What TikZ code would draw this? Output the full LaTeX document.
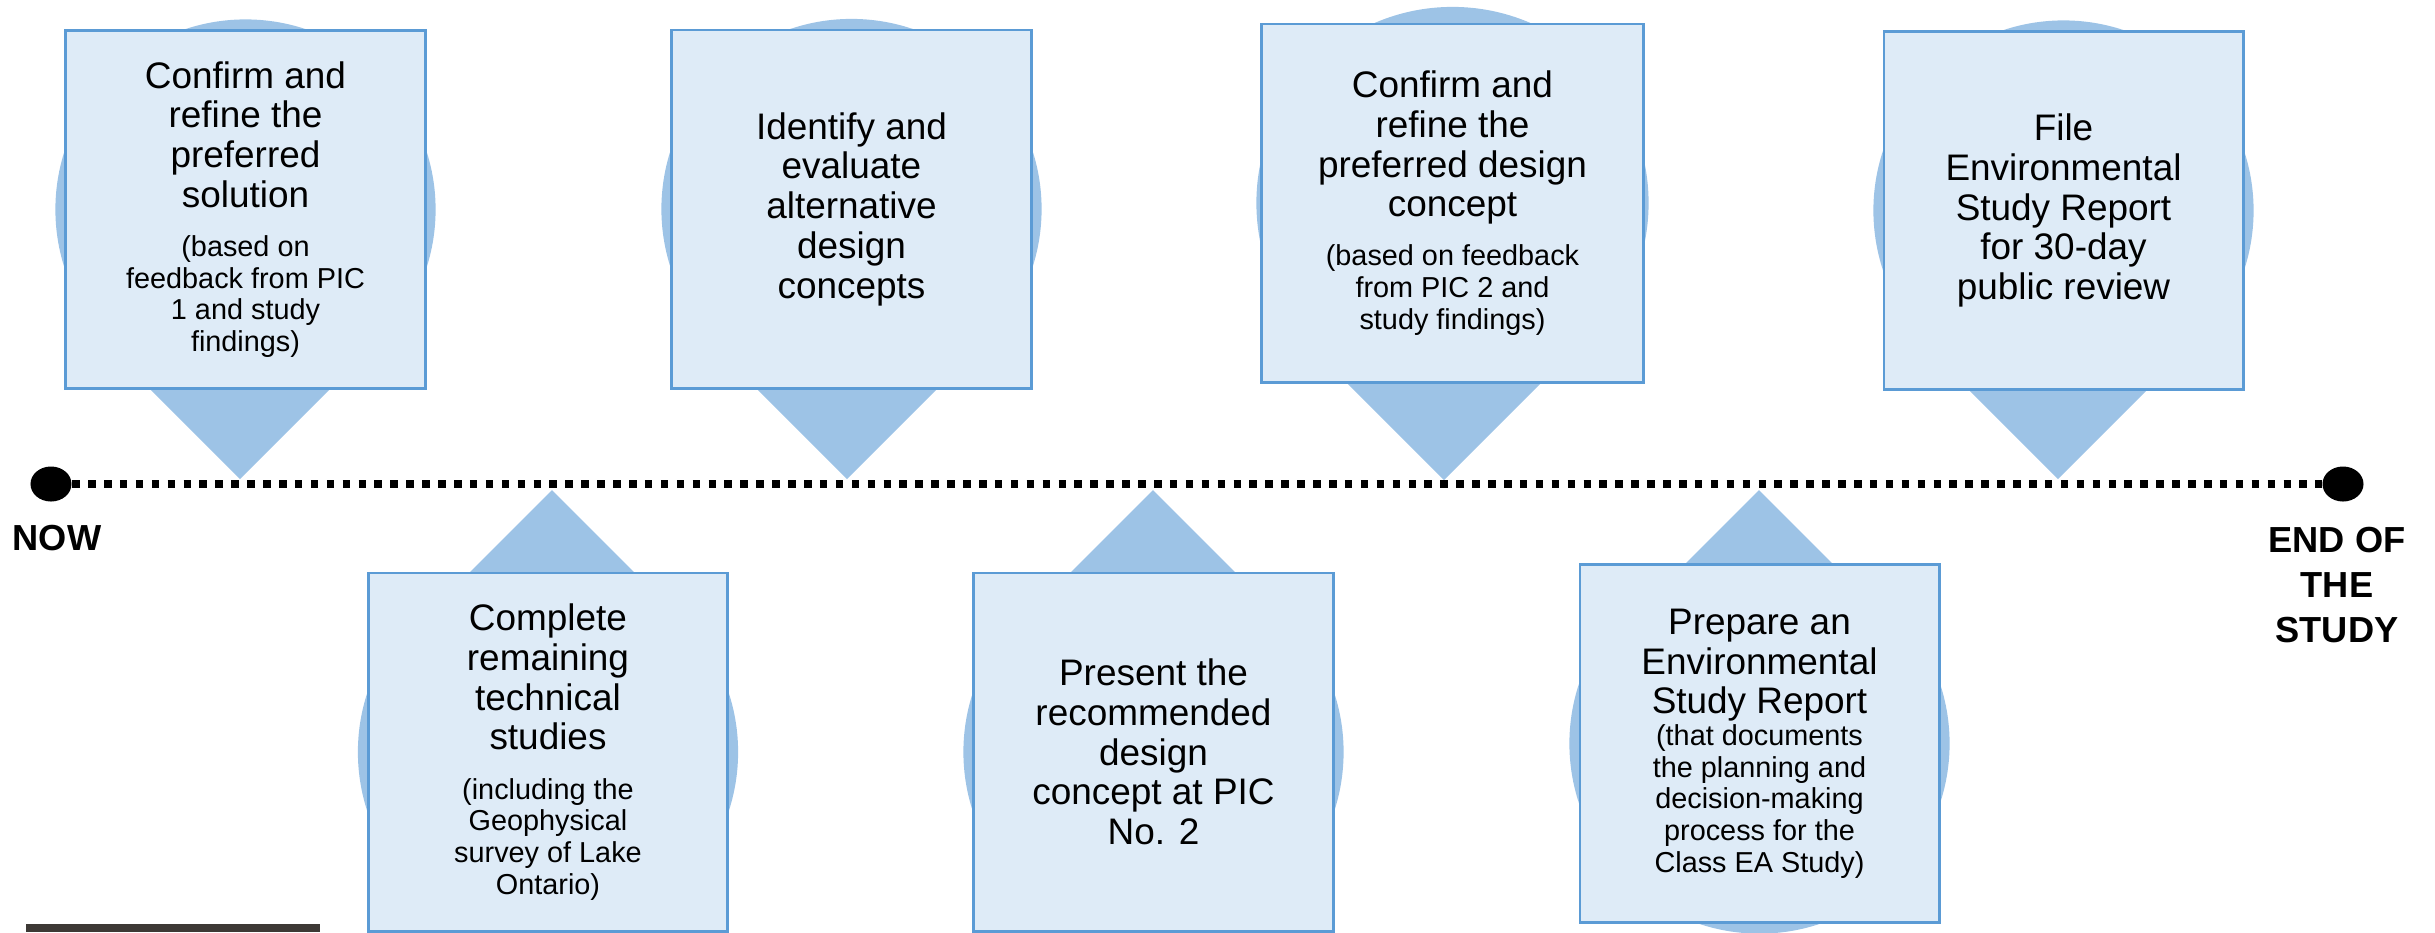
\documentclass[tikz,border=0pt]{standalone}
\usepackage{fontspec}
\setmainfont{Liberation Sans}
\usetikzlibrary{shapes.geometric,backgrounds}
\definecolor{pinblue}{HTML}{9DC3E6}
\definecolor{cardfill}{HTML}{DEEBF7}
\definecolor{cardline}{HTML}{5B9BD5}
\definecolor{barbrown}{HTML}{3D3935}
\newcommand{\maintxt}{\fontsize{10.5pt}{11.3pt}\selectfont}
\newcommand{\subtxt}{\fontsize{8.2pt}{9pt}\selectfont}
\setlength{\parindent}{0pt}

\begin{document}
\begin{tikzpicture}[x=0.01cm, y=-0.01cm,
        card/.style={draw=cardline, fill=cardfill, line width=0.8pt, minimum width=3.59cm,
                     minimum height=3.58cm, text width=3.45cm, align=flush center, inner sep=0pt,
                     font=\maintxt},
        pin/.style={fill=pinblue},
        dotend/.style={ellipse, fill=black, minimum width=0.41cm, minimum height=0.35cm, inner sep=0pt},
        tl/.style={line width=0.077cm, dash pattern=on 0.075cm off 0.084cm},
        lbl/.style={font=\fontsize{10.3pt}{12.8pt}\selectfont\bfseries, align=center, inner sep=0pt},
    ]
        \useasboundingbox (0,0) rectangle (2435,932);

        % Row 1: steps above the timeline
        \node[card] (confirm)  at (245.5,209.5) {Confirm and\\refine the\\preferred\\solution\par\vspace{5pt}\subtxt (based on\\feedback from PIC\\1 and study\\findings)\par};
        \node[card] (identify) at (851.5,209)   {Identify and\\evaluate\\alternative\\design\\concepts\par};
        \node[card, minimum width=3.81cm, text width=3.6cm] (refine) at (1452.5,203) {Confirm and\\refine the\\preferred design\\concept\par\vspace{5pt}\subtxt (based on feedback\\from PIC 2 and\\study findings)\par};
        \node[card] (file)     at (2063.5,210.5) {File\\Environmental\\Study Report\\for 30-day\\public review\par};

        % Row 2: steps below the timeline
        \node[card] (complete) at (548,752)     {Complete\\remaining\\technical\\studies\par\vspace{5pt}\subtxt (including the\\Geophysical\\survey of Lake\\Ontario)\par};
        \node[card] (present)  at (1153.5,752)  {Present the\\recommended\\design\\concept at PIC\\No. 2\par};
        \node[card] (prepare)  at (1759.5,743.5) {Prepare an\\Environmental\\Study Report\par\subtxt (that documents\\the planning and\\decision-making\\process for the\\Class EA Study)\par};

        % Pins behind the cards
        \begin{scope}[on background layer]
            \fill[pin] (confirm.center) circle[radius=1.9cm];
            \fill[pin] (240,479) -- ++(-99,-99) -- ++(198,0) -- cycle;
            \fill[pin] (identify.center) circle[radius=1.9cm];
            \fill[pin] (847,479) -- ++(-99,-99) -- ++(198,0) -- cycle;
            \fill[pin] (refine.center) circle[radius=1.96cm];
            \fill[pin] (1444,480) -- ++(-99,-99) -- ++(198,0) -- cycle;
            \fill[pin] (file.center) circle[radius=1.9cm];
            \fill[pin] (2058,479) -- ++(-99,-99) -- ++(198,0) -- cycle;
            \fill[pin] (complete.center) circle[radius=1.9cm];
            \fill[pin] (552,490) -- ++(-95,95) -- ++(190,0) -- cycle;
            \fill[pin] (present.center) circle[radius=1.9cm];
            \fill[pin] (1153,490) -- ++(-95,95) -- ++(190,0) -- cycle;
            \fill[pin] (prepare.center) circle[radius=1.9cm];
            \fill[pin] (1759,490) -- ++(-95,95) -- ++(190,0) -- cycle;
        \end{scope}

        % Timeline
        \node[dotend] (nowdot) at (51,484)   {};
        \node[dotend] (enddot) at (2343,484) {};
        \draw[tl] (nowdot) -- (enddot);

        \node[lbl, anchor=base]  (nowlbl) at (57,550)   {NOW};
        \node[lbl, anchor=north] (endlbl) at (2337,526) {END OF\\THE\\STUDY};

        \fill[barbrown] (26,924) rectangle (320,932);
    \end{tikzpicture}
\end{document}
